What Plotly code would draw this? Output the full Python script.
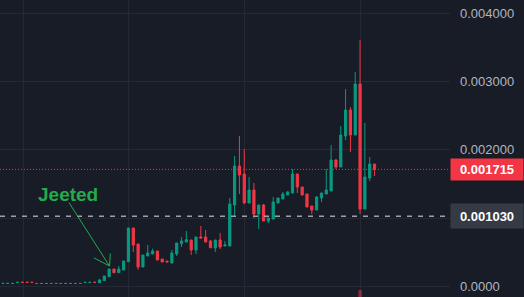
import plotly.graph_objects as go

# ---------------- data ----------------
idx = list(range(78))

opens = [
    0.0000450, 0.0000450, 0.0000450, 0.0000600, 0.0000620, 0.0000620, 0.0000620, 0.0000450,
    0.0000450, 0.0000450, 0.0000440, 0.0000440, 0.0000450, 0.0000440, 0.0000440, 0.0000440,
    0.0000440, 0.0000600, 0.0000600, 0.0000620,
    0.0000556, 0.0000849, 0.0001435, 0.0002562, 0.0002020, 0.0002416, 0.0003630, 0.0008565,
    0.0006220, 0.0002855, 0.0004466, 0.0004758, 0.0005198, 0.0004026, 0.0003730, 0.0003440,
    0.0004758, 0.0006267, 0.0006515, 0.0006808, 0.0005344, 0.0007247, 0.0007247, 0.0006662,
    0.0005637, 0.0006808, 0.0005930, 0.0005930, 0.0011933, 0.0017643, 0.0016471, 0.0012225,
    0.0014129, 0.0010615, 0.0011933, 0.0009590, 0.0009883, 0.0012225, 0.0012811, 0.0013397,
    0.0013690, 0.0016471, 0.0014568, 0.0013543, 0.0011786, 0.0011200, 0.0012958, 0.0013543,
    0.0013982, 0.0018521, 0.0017496, 0.0022035, 0.0025842, 0.0022182, 0.0029649, 0.0011347,
    0.0015886, 0.0017936,
]
highs = [
    0.0000460, 0.0000460, 0.0000460, 0.0000610, 0.0000620, 0.0000620, 0.0000620, 0.0000450,
    0.0000450, 0.0000450, 0.0000450, 0.0000450, 0.0000450, 0.0000450, 0.0000450, 0.0000450,
    0.0000450, 0.0000610, 0.0000610, 0.0000620,
    0.0001098, 0.0001537, 0.0002562, 0.0002562, 0.0003000, 0.0003730, 0.0008565, 0.0008565,
    0.0006220, 0.0004610, 0.0006076, 0.0005534, 0.0005198, 0.0004026, 0.0003730, 0.0005344,
    0.0006369, 0.0007247, 0.0008126, 0.0006808, 0.0007247, 0.0008858, 0.0008272, 0.0006808,
    0.0006808, 0.0007833, 0.0006662, 0.0012958, 0.0019107, 0.0022035, 0.0020132, 0.0016032,
    0.0015154, 0.0011933, 0.0012079, 0.0010029, 0.0013104, 0.0012958, 0.0013836, 0.0013982,
    0.0017204, 0.0016471, 0.0014568, 0.0013543, 0.0011786, 0.0013250, 0.0013690, 0.0017204,
    0.0020717, 0.0018668, 0.0023499, 0.0028917, 0.0026281, 0.0031406, 0.0036091, 0.0023939,
    0.0018960, 0.0017936,
]
lows = [
    0.0000450, 0.0000450, 0.0000450, 0.0000600, 0.0000610, 0.0000610, 0.0000610, 0.0000440,
    0.0000440, 0.0000440, 0.0000440, 0.0000440, 0.0000440, 0.0000440, 0.0000440, 0.0000440,
    0.0000440, 0.0000600, 0.0000600, 0.0000610,
    0.0000556, 0.0000849, 0.0001435, 0.0002020, 0.0002020, 0.0002416, 0.0003630, 0.0005050,
    0.0002460, 0.0002855, 0.0004466, 0.0004758, 0.0003880, 0.0003587, 0.0003587, 0.0003440,
    0.0004466, 0.0005783, 0.0006515, 0.0004612, 0.0004758, 0.0007101, 0.0006515, 0.0005681,
    0.0005050, 0.0005490, 0.0005930, 0.0005930, 0.0010176, 0.0013543, 0.0012079, 0.0012225,
    0.0010029, 0.0008419, 0.0009590, 0.0009297, 0.0009883, 0.0012225, 0.0012811, 0.0013397,
    0.0013690, 0.0013690, 0.0013397, 0.0011640, 0.0010615, 0.0011200, 0.0012372, 0.0013543,
    0.0013982, 0.0017204, 0.0017496, 0.0021449, 0.0019692, 0.0022182, 0.0010615, 0.0011347,
    0.0015447, 0.0016179,
]
closes = [
    0.0000460, 0.0000460, 0.0000460, 0.0000610, 0.0000610, 0.0000610, 0.0000610, 0.0000440,
    0.0000440, 0.0000440, 0.0000450, 0.0000450, 0.0000440, 0.0000450, 0.0000450, 0.0000450,
    0.0000450, 0.0000610, 0.0000610, 0.0000610,
    0.0000952, 0.0001537, 0.0002562, 0.0002020, 0.0002562, 0.0003730, 0.0008565, 0.0006076,
    0.0002855, 0.0004610, 0.0004905, 0.0005198, 0.0003880, 0.0003587, 0.0003587, 0.0004905,
    0.0006369, 0.0006662, 0.0006852, 0.0005344, 0.0007247, 0.0007101, 0.0006515, 0.0005681,
    0.0006808, 0.0005783, 0.0006076, 0.0012079, 0.0017643, 0.0016325, 0.0012225, 0.0014129,
    0.0010615, 0.0011933, 0.0009590, 0.0010029, 0.0012372, 0.0012958, 0.0013543, 0.0013836,
    0.0016471, 0.0014568, 0.0013397, 0.0011640, 0.0011200, 0.0013104, 0.0013690, 0.0014129,
    0.0018521, 0.0017496, 0.0022182, 0.0025842, 0.0022182, 0.0029649, 0.0011347, 0.0016032,
    0.0017936, 0.0017150,
]
volumes = [
    2, 2, 2, 3, 2, 2, 2, 2, 2, 2, 2, 2, 2, 2, 2, 2, 2, 3, 3, 2,
    6, 8, 10, 5, 6, 9, 30, 22, 20, 10, 8, 6, 7, 5, 4, 9, 12,
    8, 9, 10, 12, 9, 8, 9, 8, 9, 5, 35, 45, 40, 38, 20, 25, 18, 16, 8, 15, 10, 9, 7,
    18, 14, 10, 14, 9, 15, 10, 12, 30, 12, 28, 40, 35, 45, 100, 40, 18, 9,
]

last_price = 0.001715
marked_price = 0.001030
y_ticks = [0.0, 0.001, 0.002, 0.003, 0.004]
# the 0.001000 label sits under the marked-price box in the reference
y_tick_text = ["0.0000", "", "0.002000", "0.003000", "0.004000"]
x_grid = [4.2, 26, 50, 74]
note_text = "Jeeted"

# ---------------- style ----------------
W, H = 524, 297
R = 74
bg = "#181c27"
grid = "#252935"
up = "#089981"
down = "#f23645"
note_green = "#22ab4a"
font = "Liberation Sans, Arial, sans-serif"

fig = go.Figure()

vol_colors = ["rgba(8,153,129,0.5)" if c >= o else "rgba(242,54,69,0.5)"
              for o, c in zip(opens, closes)]
fig.add_trace(go.Bar(x=idx, y=volumes, yaxis="y2", marker=dict(color=vol_colors, line_width=0),
                     width=0.72, hoverinfo="skip", showlegend=False))

fig.add_trace(go.Candlestick(
    x=idx, open=opens, high=highs, low=lows, close=closes,
    increasing=dict(line=dict(color=up, width=1), fillcolor=up),
    decreasing=dict(line=dict(color=down, width=1), fillcolor=down),
    whiskerwidth=0, showlegend=False, hoverinfo="skip",
))

# volume axis: only the largest bar peeks above the bottom edge
vmax = max(volumes)
vis_px = 7
v0 = 60
v1 = v0 + (vmax - v0) * H / vis_px

fig.update_layout(
    width=W, height=H,
    margin=dict(l=0, r=R, t=0, b=0),
    paper_bgcolor=bg, plot_bgcolor=bg,
    boxgap=0.35,
    xaxis=dict(range=[-0.622, 92.64], tickvals=x_grid, showticklabels=False,
               showgrid=True, gridcolor=grid, gridwidth=1, zeroline=False,
               showline=False, rangeslider=dict(visible=False), fixedrange=True),
    yaxis=dict(side="right", range=[-0.0001537, 0.0041947], tickvals=y_ticks,
               ticktext=y_tick_text, showgrid=True, gridcolor=grid, gridwidth=1,
               zeroline=False, showline=False, ticks="",
               tickfont=dict(family=font, size=13, color="#b2b5be"),
               ticklabelstandoff=9, fixedrange=True),
    yaxis2=dict(overlaying="y", range=[v0, v1], visible=False, fixedrange=True),
    shapes=[
        dict(type="line", xref="paper", x0=0, x1=1, yref="y", y0=marked_price, y1=marked_price,
             line=dict(color="#9ea1aa", width=1.5, dash="5px,6px")),
        dict(type="line", xref="paper", x0=0, x1=1, yref="y", y0=last_price, y1=last_price,
             line=dict(color=down, width=1, dash="1px,2px")),
    ],
    annotations=[
        dict(xref="paper", x=1, xanchor="left", yref="y", y=last_price, yanchor="middle",
             text="<b>%.6f</b>" % last_price, showarrow=False, bgcolor=down,
             font=dict(family=font, size=13, color="#ffffff"), width=72, height=21,
             borderpad=0, align="center"),
        dict(xref="paper", x=1, xanchor="left", yref="y", y=marked_price, yanchor="middle",
             text="<b>%.6f</b>" % marked_price, showarrow=False, bgcolor="#363a45",
             font=dict(family=font, size=13, color="#ffffff"), width=72, height=24,
             borderpad=0, align="center"),
        dict(x=13.37, y=0.001354, xref="x", yref="y", text="<b>%s</b>" % note_text,
             showarrow=False, xanchor="center", yanchor="middle",
             font=dict(family=font, size=19, color=note_green)),
        dict(x=22.07, y=0.0003, xref="x", yref="y", text="", showarrow=True,
             ax=-41.5, ay=-65, arrowhead=0, arrowwidth=1, arrowcolor=note_green, standoff=0),
        dict(x=22.07, y=0.0003, xref="x", yref="y", text="", showarrow=True,
             ax=-17.2, ay=-9, arrowhead=0, arrowwidth=1, arrowcolor=note_green, standoff=0),
        dict(x=22.07, y=0.0003, xref="x", yref="y", text="", showarrow=True,
             ax=1, ay=-14, arrowhead=0, arrowwidth=1, arrowcolor=note_green, standoff=0),
    ],
)

fig.write_html("out.html", config=dict(displayModeBar=False, staticPlot=True))
